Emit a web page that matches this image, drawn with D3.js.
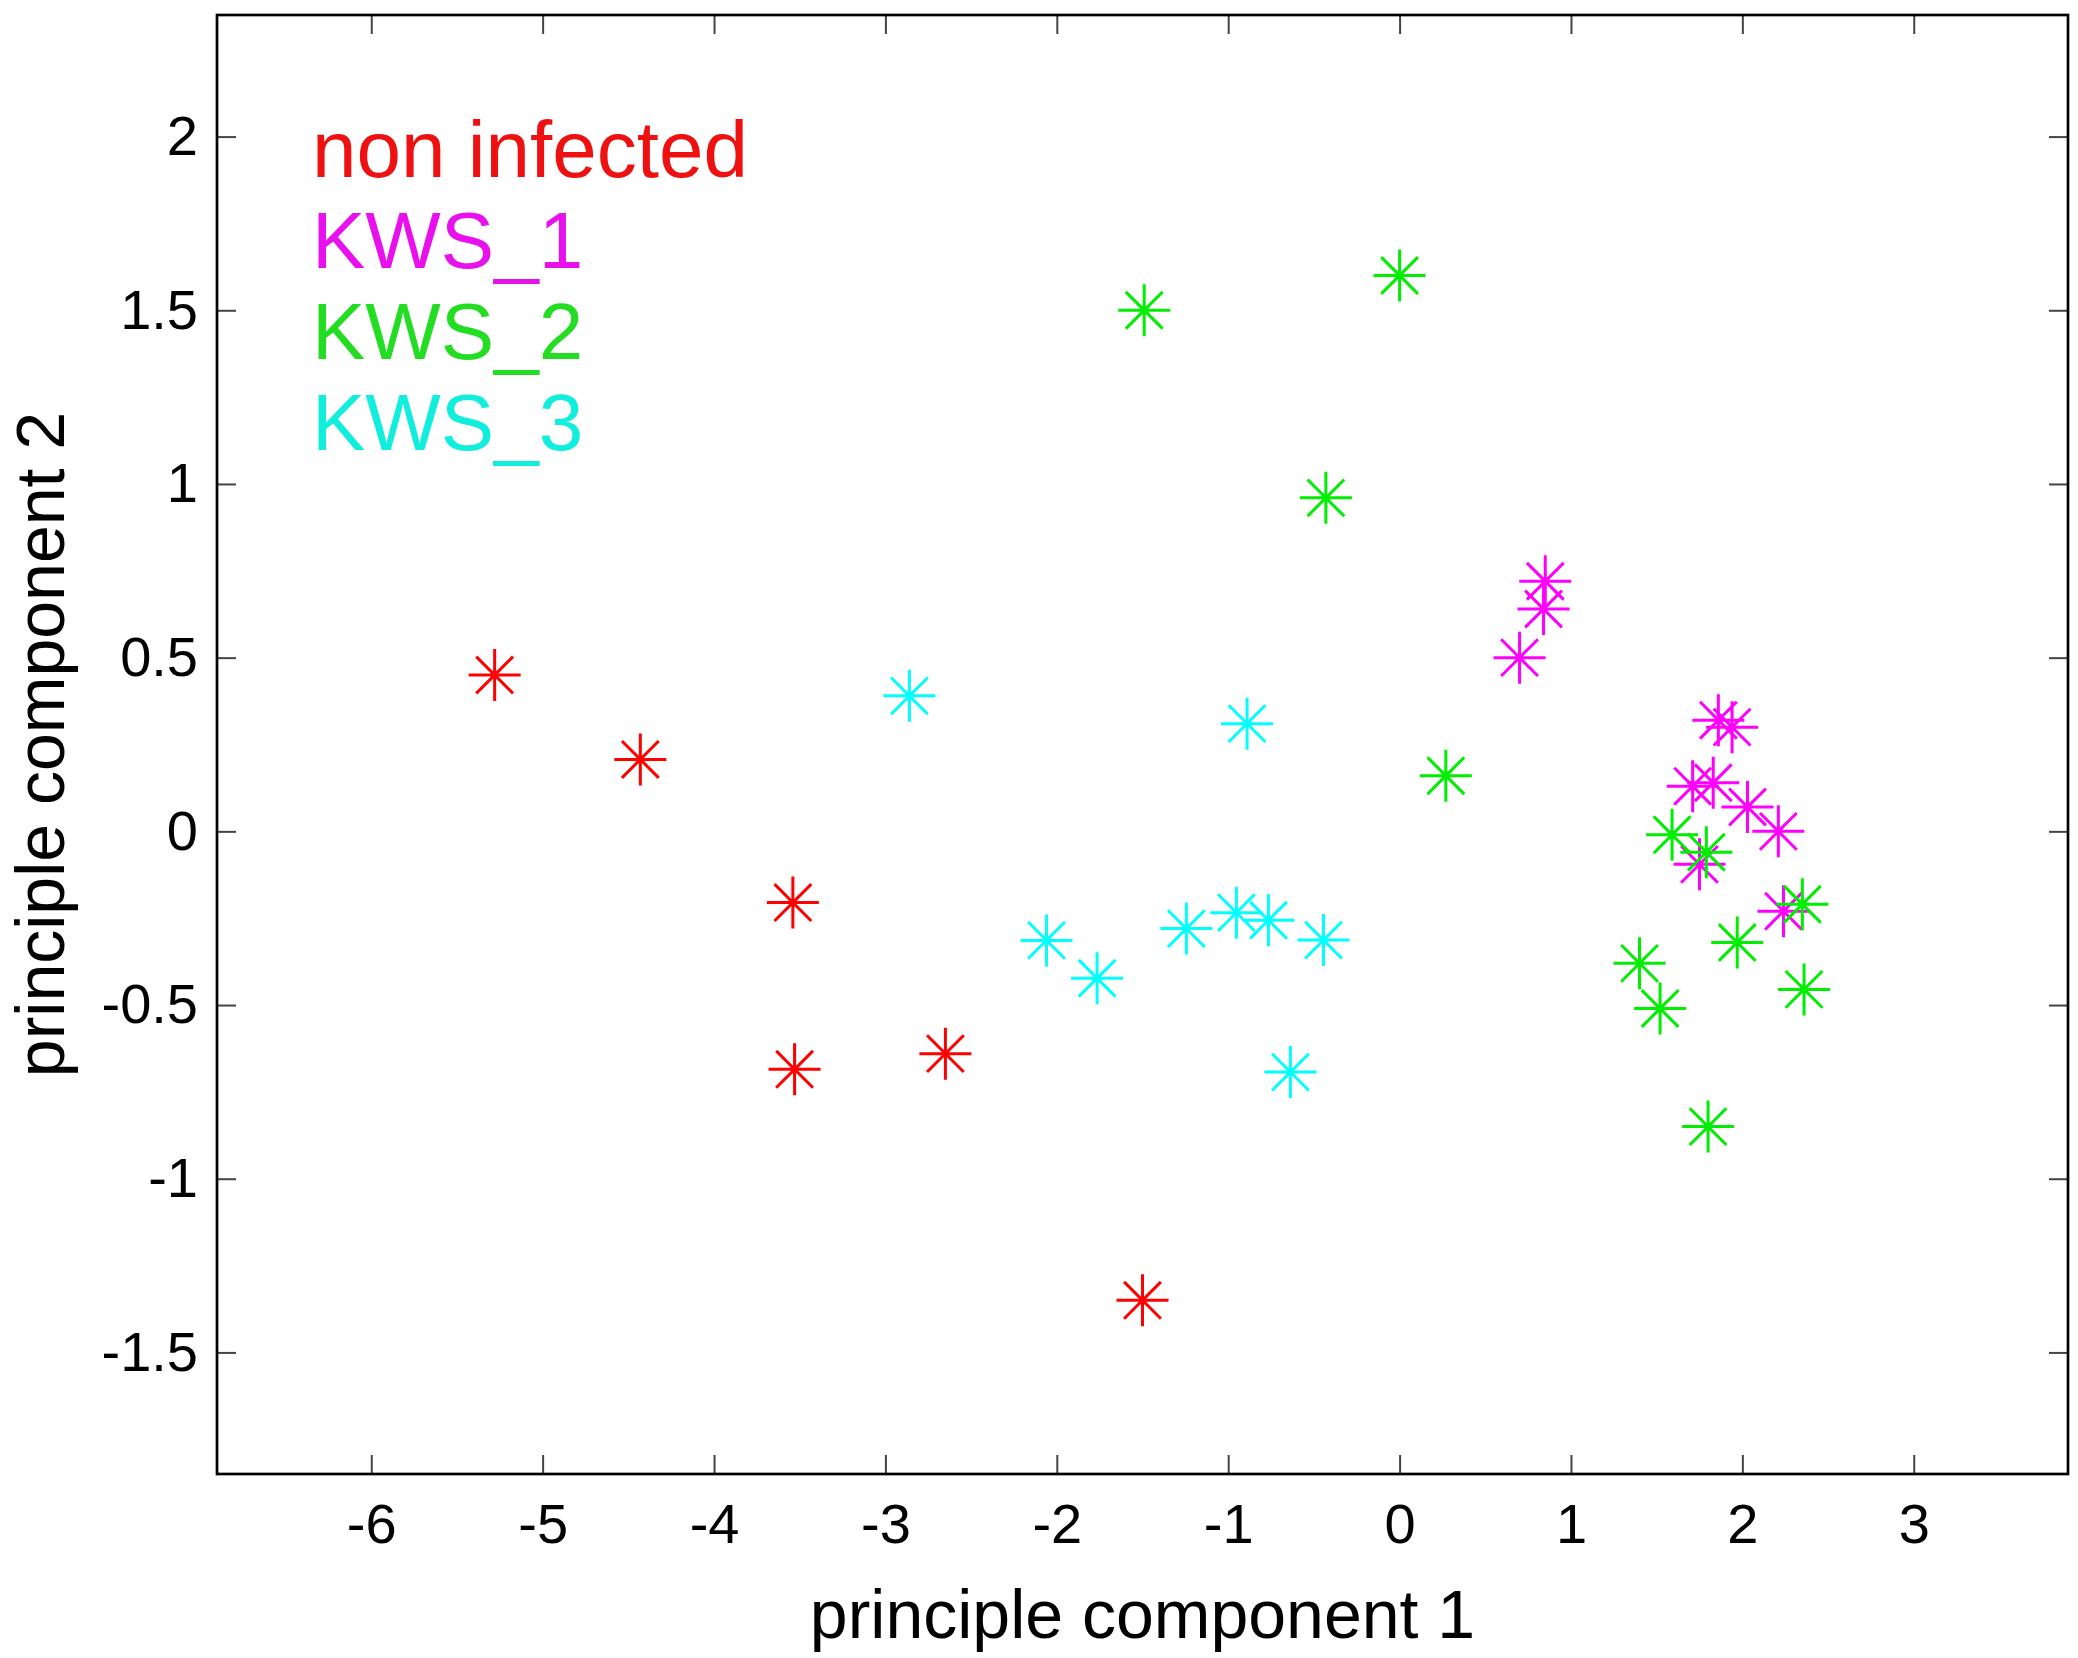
<!DOCTYPE html>
<html>
<head>
<meta charset="utf-8">
<script src="https://d3js.org/d3.v7.min.js"></script>
<style>
  body { margin: 0; background: #fff; }
  svg { display: block; font-family: "Liberation Sans", Arial, sans-serif; }
  .axis path { display: none; }
  .axis line { stroke: #444; stroke-width: 2; }
  .axis text { fill: #000; font-size: 56px; }
</style>
</head>
<body>
<svg id="chart" width="2078" height="1658"></svg>
<script>
// PCA scores
const groups = ["non infected", "KWS_1", "KWS_2", "KWS_3"];
const markerColors = ["#ff0000", "#ff00ff", "#00ee00", "#00ffff"];
const textColors = ["#ee1111", "#e811ee", "#22dd22", "#11eedd"];

const nonInfectedX = [-5.28, -4.43, -3.54, -3.53, -2.65, -1.50];
const nonInfectedY = [0.45, 0.207, -0.205, -0.685, -0.64, -1.35];

const kws1X = [0.85, 0.84, 0.70, 1.86, 1.94, 1.71, 1.83, 2.03, 2.21, 1.75, 2.24];
const kws1Y = [0.72, 0.64, 0.50, 0.32, 0.30, 0.13, 0.14, 0.07, 0.0, -0.095, -0.23];

const kws2X = [-1.49, 0.0, -0.43, 0.27, 1.59, 1.79, 2.35, 1.40, 1.97, 1.52, 2.36, 1.80];
const kws2Y = [1.50, 1.60, 0.96, 0.16, -0.01, -0.06, -0.21, -0.38, -0.32, -0.51, -0.455, -0.85];

const kws3X = [-2.86, -0.89, -2.06, -1.765, -1.244, -0.952, -0.765, -0.444, -0.637];
const kws3Y = [0.39, 0.31, -0.314, -0.423, -0.28, -0.234, -0.256, -0.313, -0.693];

const xTicks = [-6, -5, -4, -3, -2, -1, 0, 1, 2, 3];
const yTicks = [-1.5, -1, -0.5, 0, 0.5, 1, 1.5, 2];

const seriesX = [nonInfectedX, kws1X, kws2X, kws3X];
const seriesY = [nonInfectedY, kws1Y, kws2Y, kws3Y];

const svg = d3.select("#chart");

const margin = { left: 217, right: 2068, top: 15, bottom: 1474 };
const width = margin.right - margin.left, height = margin.bottom - margin.top;

const x = d3.scaleLinear().domain([-6.9, 3.9]).range([0, width]);
const y = d3.scaleLinear().domain([-1.85, 2.35]).range([height, 0]);

const g = svg.append("g").attr("transform", `translate(${margin.left},${margin.top})`);

const tick = 19;

g.append("g").attr("class", "axis")
    .attr("transform", `translate(0,${height})`)
    .call(d3.axisBottom(x).tickValues(xTicks).tickSizeInner(-tick).tickSizeOuter(0)
        .tickPadding(29).tickFormat(d => String(d)));

g.append("g").attr("class", "axis")
    .call(d3.axisTop(x).tickValues(xTicks).tickSizeInner(-tick).tickSizeOuter(0).tickFormat(""));

g.append("g").attr("class", "axis")
    .call(d3.axisLeft(y).tickValues(yTicks).tickSizeInner(-tick).tickSizeOuter(0)
        .tickPadding(19).tickFormat(d => String(d)));

g.append("g").attr("class", "axis")
    .attr("transform", `translate(${width},0)`)
    .call(d3.axisRight(y).tickValues(yTicks).tickSizeInner(-tick).tickSizeOuter(0).tickFormat(""));

// box
g.append("rect")
    .attr("width", width)
    .attr("height", height)
    .attr("fill", "none")
    .attr("stroke", "#000")
    .attr("stroke-width", 2.7);

// asterisk marker: plus and cross
const r = 26, rd = r * Math.SQRT1_2;
const star = `M${-r},0H${r}M0,${-r}V${r}M${-rd},${-rd}L${rd},${rd}M${-rd},${rd}L${rd},${-rd}`;

seriesX.forEach((xs, i) => {
    g.append("g")
        .selectAll("path")
        .data(xs.map((v, j) => [v, seriesY[i][j]]))
        .enter().append("path")
        .attr("transform", d => `translate(${x(d[0])},${y(d[1])})`)
        .attr("d", star)
        .attr("fill", "none")
        .attr("stroke", markerColors[i])
        .attr("stroke-width", 3);
});

// legend text
groups.forEach((name, i) => {
    svg.append("text")
        .attr("x", 312)
        .attr("y", 177 + i * 91)
        .attr("font-size", 80)
        .attr("fill", textColors[i])
        .text(name);
});

// axis labels
svg.append("text")
    .attr("x", margin.left + width / 2)
    .attr("y", 1638)
    .attr("text-anchor", "middle")
    .attr("font-size", 68)
    .text("principle component 1");

svg.append("text")
    .attr("transform", `translate(64,${margin.top + height / 2}) rotate(-90)`)
    .attr("text-anchor", "middle")
    .attr("font-size", 68)
    .text("principle component 2");
</script>
</body>
</html>
